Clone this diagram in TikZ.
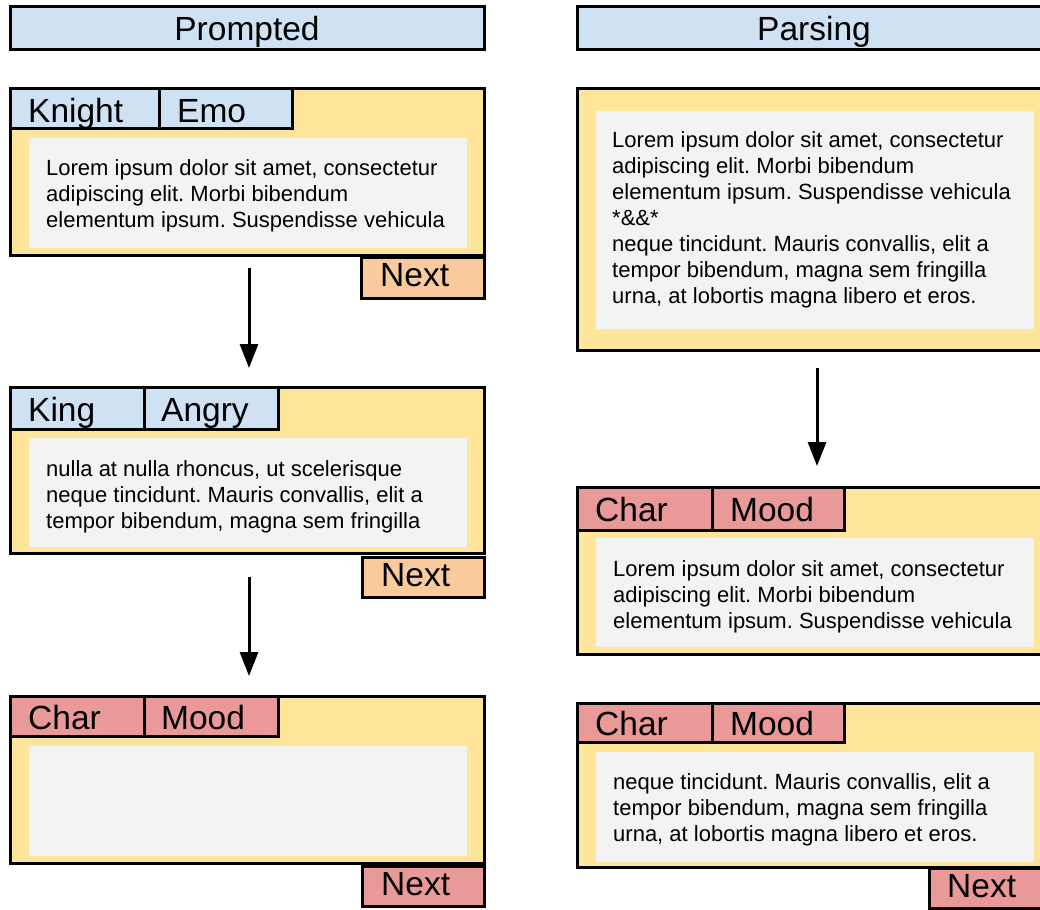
\documentclass[tikz,border=0pt]{standalone}
\usepackage{fontspec}
\setmainfont{Liberation Sans}
\usetikzlibrary{arrows.meta}

\definecolor{hdrblue}{HTML}{CFE2F3}
\definecolor{cardyellow}{HTML}{FFE599}
\definecolor{panegray}{HTML}{F3F3F3}
\definecolor{btnorange}{HTML}{F9CB9C}
\definecolor{tagred}{HTML}{EA9999}

\frenchspacing
\newcommand\cardtextfont{\fontsize{22}{26}\selectfont\raggedright}

\tikzset{
  box/.style={draw=black, line width=3pt, rectangle, inner sep=0pt, outer sep=0pt, anchor=north west},
  titlebar/.style={box, fill=hdrblue, minimum width=474pt, minimum height=43pt},
  card/.style={box, fill=cardyellow, minimum width=474pt},
  tab/.style={box, minimum height=40pt},
  pane/.style={rectangle, fill=panegray, inner sep=0pt, outer sep=0pt, anchor=north west, minimum width=438pt},
  nextbtn/.style={box, minimum width=122pt, minimum height=40pt},
  biglabel/.style={inner sep=0pt, font=\fontsize{33.5}{40}\selectfont},
  body/.style={anchor=base west, inner sep=0pt},
  flow/.style={-{Triangle[width=18pt,length=24pt]}, line width=3pt},
}

\begin{document}
\begin{tikzpicture}[x=1pt, y=-1pt]
\fill[white] (0,0) rectangle (1040,909);
\useasboundingbox (0,0) rectangle (1040,909);
\clip (0,0) rectangle (1040,909);

% ---------------- left column ----------------
\node[titlebar] (tl) at (10,7) {};
\node[biglabel, anchor=base] (tlt) at ([yshift=-34pt]tl.north) {Prompted};

% card 1
\node[card, minimum height=166pt] (c1) at (10,89) {};
\node[tab, fill=hdrblue, minimum width=149pt] (c1a) at (10,89) {};
\node[tab, fill=hdrblue, minimum width=133pt] (c1b) at (159,89) {};
\node[biglabel, anchor=base west] (c1at) at ([xshift=18pt,yshift=-33.5pt]c1a.north west) {Knight};
\node[biglabel, anchor=base west] (c1bt) at ([xshift=18pt,yshift=-33.5pt]c1b.north west) {Emo};
\node[pane, minimum height=110pt] (p1) at (29,138) {};
\node[body] (p1t) at ([xshift=17pt,yshift=-38pt]p1.north west)
  {\parbox[t]{430pt}{\cardtextfont Lorem ipsum dolor sit amet, consectetur\\
   adipiscing elit. Morbi bibendum\\
   elementum ipsum. Suspendisse vehicula}};
\node[nextbtn, fill=btnorange, minimum width=123pt, minimum height=41pt] (n1) at (361,257) {};
\node[biglabel, anchor=base west] (n1t) at ([xshift=19pt,yshift=-29pt]n1.north west) {Next};

% card 2
\node[card, minimum height=166pt] (c2) at (10,387) {};
\node[tab, fill=hdrblue, minimum width=134pt, minimum height=42pt] (c2a) at (10,387) {};
\node[tab, fill=hdrblue, minimum width=134pt, minimum height=42pt] (c2b) at (144,387) {};
\node[biglabel, anchor=base west] (c2at) at ([xshift=18pt,yshift=-34pt]c2a.north west) {King};
\node[biglabel, anchor=base west] (c2bt) at ([xshift=17pt,yshift=-34pt]c2b.north west) {Angry};
\node[pane, minimum height=109pt] (p2) at (29,438) {};
\node[body] (p2t) at ([xshift=17pt,yshift=-38pt]p2.north west)
  {\parbox[t]{430pt}{\cardtextfont nulla at nulla rhoncus, ut scelerisque\\
   neque tincidunt. Mauris convallis, elit a\\
   tempor bibendum, magna sem fringilla}};
\node[nextbtn, fill=btnorange] (n2) at (362,557) {};
\node[biglabel, anchor=base west] (n2t) at ([xshift=19pt,yshift=-29pt]n2.north west) {Next};

% card 3
\node[card, minimum height=167pt] (c3) at (10,696) {};
\node[tab, fill=tagred, minimum width=134pt] (c3a) at (10,696) {};
\node[tab, fill=tagred, minimum width=134pt] (c3b) at (144,696) {};
\node[biglabel, anchor=base west] (c3at) at ([xshift=18pt,yshift=-33.5pt]c3a.north west) {Char};
\node[biglabel, anchor=base west] (c3bt) at ([xshift=17pt,yshift=-33.5pt]c3b.north west) {Mood};
\node[pane, minimum height=110pt] (p3) at (29,746) {};
\node[nextbtn, fill=tagred] (n3) at (362,866) {};
\node[biglabel, anchor=base west] (n3t) at ([xshift=19pt,yshift=-29pt]n3.north west) {Next};

\draw[flow] ([xshift=2pt,yshift=-13pt]c1.south) -- ([xshift=2pt,yshift=19pt]c2.north);
\draw[flow] ([xshift=2pt,yshift=-24pt]c2.south) -- ([xshift=2pt,yshift=20pt]c3.north);

% ---------------- right column ----------------
\node[titlebar] (tr) at (577,7) {};
\node[biglabel, anchor=base] (trt) at ([yshift=-34pt]tr.north) {Parsing};

% card R1
\node[card, minimum height=261pt] (r1) at (577,89) {};
\node[pane, minimum height=218pt] (q1) at (596,111) {};
\node[body] (q1t) at ([xshift=16pt,yshift=-37pt]q1.north west)
  {\parbox[t]{430pt}{\cardtextfont Lorem ipsum dolor sit amet, consectetur\\
   adipiscing elit. Morbi bibendum\\
   elementum ipsum. Suspendisse vehicula\\
   {*}\&\&*\\
   neque tincidunt. Mauris convallis, elit a\\
   tempor bibendum, magna sem fringilla\\
   urna, at lobortis magna libero et eros.}};

% card R2
\node[card, minimum height=167pt] (r2) at (577,487) {};
\node[tab, fill=tagred, minimum width=135pt, minimum height=43pt] (r2a) at (577,487) {};
\node[tab, fill=tagred, minimum width=132pt, minimum height=43pt] (r2b) at (712,487) {};
\node[biglabel, anchor=base west] (r2at) at ([xshift=18pt,yshift=-34pt]r2a.north west) {Char};
\node[biglabel, anchor=base west] (r2bt) at ([xshift=18pt,yshift=-34pt]r2b.north west) {Mood};
\node[pane, minimum height=109pt] (q2) at (596,538) {};
\node[body] (q2t) at ([xshift=17pt,yshift=-38pt]q2.north west)
  {\parbox[t]{430pt}{\cardtextfont Lorem ipsum dolor sit amet, consectetur\\
   adipiscing elit. Morbi bibendum\\
   elementum ipsum. Suspendisse vehicula}};

% card R3
\node[card, minimum height=164pt] (r3) at (577,703) {};
\node[tab, fill=tagred, minimum width=135pt, minimum height=39pt] (r3a) at (577,703) {};
\node[tab, fill=tagred, minimum width=132pt, minimum height=39pt] (r3b) at (712,703) {};
\node[biglabel, anchor=base west] (r3at) at ([xshift=18pt,yshift=-32pt]r3a.north west) {Char};
\node[biglabel, anchor=base west] (r3bt) at ([xshift=18pt,yshift=-32pt]r3b.north west) {Mood};
\node[pane, minimum height=110pt] (q3) at (596,752) {};
\node[body] (q3t) at ([xshift=17pt,yshift=-37pt]q3.north west)
  {\parbox[t]{430pt}{\cardtextfont neque tincidunt. Mauris convallis, elit a\\
   tempor bibendum, magna sem fringilla\\
   urna, at lobortis magna libero et eros.}};
\node[nextbtn, fill=tagred] (nr3) at (929,868) {};
\node[biglabel, anchor=base west] (nr3t) at ([xshift=18pt,yshift=-29pt]nr3.north west) {Next};

\draw[flow] ([xshift=3pt,yshift=-18pt]r1.south) -- ([xshift=3pt,yshift=21pt]r2.north);
\end{tikzpicture}
\end{document}
